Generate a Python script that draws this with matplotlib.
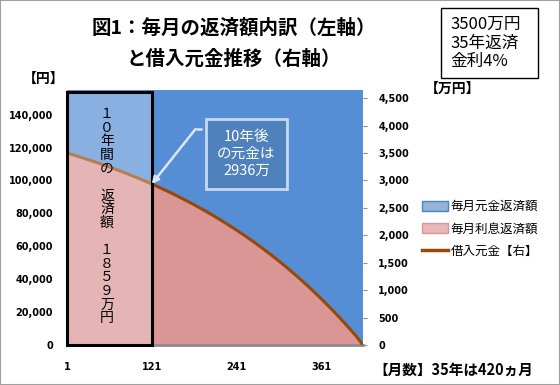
import matplotlib.pyplot as plt
from matplotlib.patches import Rectangle, Patch
from matplotlib.lines import Line2D

plt.rcParams['font.family'] = ['Noto Sans CJK JP', 'DejaVu Sans']

# yearly samples (month number, yen / 万円)
months = list(range(1, 410, 12)) + [420]
interest = [116667, 115106, 113482, 111791, 110032, 108201, 106296, 104313, 102249,
            100100, 97865, 95538, 93117, 90597, 87974, 85245, 82404, 79447, 76370,
            73168, 69835, 66367, 62757, 59000, 55090, 51020, 46785, 42378, 37790,
            33016, 28048, 22877, 17495, 11894, 6066, 515]
principal = [38306, 39867, 41491, 43182, 44941, 46772, 48677, 50660, 52724, 54873,
             57108, 59435, 61856, 64376, 66999, 69728, 72569, 75526, 78603, 81805,
             85138, 88606, 92216, 95973, 99883, 103953, 108188, 112595, 117183,
             121957, 126925, 132096, 137478, 143079, 148907, 154458]
balance = [3500, 3453, 3404, 3354, 3301, 3246, 3189, 3129, 3067, 3003, 2936, 2866,
           2794, 2718, 2639, 2557, 2472, 2383, 2291, 2195, 2095, 1991, 1883, 1770,
           1653, 1531, 1404, 1271, 1134, 990, 841, 686, 525, 357, 182, 0]

left_ticks = [0, 20000, 40000, 60000, 80000, 100000, 120000, 140000]
right_ticks = [0, 500, 1000, 1500, 2000, 2500, 3000, 3500, 4000, 4500]
x_ticks = [1, 121, 241, 361]
series_names = ['毎月元金返済額', '毎月利息返済額', '借入元金【右】']

BLUE = '#558ED5'
PINK = '#D99694'
BROWN = '#984807'

W, H = 560, 385
fig = plt.figure(figsize=(W / 100, H / 100), dpi=100)


def fx(px):
    return px / W


def fy(py):
    return 1 - py / H


ax = fig.add_axes([fx(67), fy(345), fx(363) - fx(67), fy(90) - fy(345)])
ax.stackplot(months, interest, principal, colors=[PINK, BLUE], linewidth=0)
ax.set_xlim(1, 420)
ax.set_ylim(0, 155000)
ax.set_yticks(left_ticks)
ax.set_yticklabels([f'{v:,}' for v in left_ticks], family='DejaVu Sans',
                   fontweight='bold', fontsize=7)
ax.set_xticks(x_ticks)
ax.set_xticklabels([str(v) for v in x_ticks], family='DejaVu Sans',
                   fontweight='bold', fontsize=7)
ax.tick_params(axis='y', length=0, pad=10)
ax.tick_params(axis='x', length=0, pad=12)
for s in ['top', 'left', 'right']:
    ax.spines[s].set_visible(False)
ax.spines['bottom'].set_color('#8C8C8C')
ax.spines['bottom'].set_linewidth(2)

ax2 = ax.twinx()
ax2.plot(months, balance, color=BROWN, linewidth=2.2)
ax2.set_ylim(0, 4650)
ax2.set_yticks(right_ticks)
ax2.set_yticklabels([f'{v:,}' for v in right_ticks], family='DejaVu Sans',
                    fontweight='bold', fontsize=7)
ax2.tick_params(axis='y', length=3, color='#8C8C8C', pad=8)
for s in ax2.spines.values():
    s.set_visible(False)

# first 10 years highlight box
ax2.add_patch(Rectangle((1, 0), 120, 4620, facecolor='white', alpha=0.3,
                        edgecolor='none', zorder=5))
ax2.add_patch(Rectangle((1, 0), 120, 4620, facecolor='none', edgecolor='black',
                        linewidth=2.2, zorder=6, clip_on=False))

vert = '１０年間の　返済額　１８５９万円'
for i, ch in enumerate(vert):
    fig.text(fx(107), fy(114 + i * 13.6), ch, ha='center', va='center',
             fontsize=10, color='black')

# callout
fig.text(fx(246.5), fy(154), '10年後\nの元金は\n2936万', ha='center', va='center',
         color='white', fontsize=10.5, linespacing=1.3,
         bbox=dict(boxstyle='square,pad=0.75', facecolor='#4F81BD',
                   edgecolor='#C6D9F1', linewidth=2))
ax2.annotate('', xy=(121, 2936), xytext=(183, 3939),
             arrowprops=dict(arrowstyle='-|>', color='#DCE6F2', lw=1.8,
                             mutation_scale=10, shrinkA=0, shrinkB=0), zorder=7)
ax2.plot([183, 192], [3939, 3939], color='#DCE6F2', lw=1.8, zorder=7,
         solid_capstyle='butt')

# titles and labels
fig.text(fx(234), fy(28), '図1：毎月の返済額内訳（左軸）', ha='center', va='center',
         fontsize=14, fontweight='bold')
fig.text(fx(234), fy(59), 'と借入元金推移（右軸）', ha='center', va='center',
         fontsize=14, fontweight='bold')
fig.text(fx(23), fy(79), '【円】', ha='left', va='center', fontsize=10,
         fontweight='bold')
fig.text(fx(425), fy(89), '【万円】', ha='left', va='center', fontsize=10,
         fontweight='bold')
fig.text(fx(373), fy(370), '【月数】35年は420ヵ月', ha='left', va='center',
         fontsize=10.5, fontweight='bold')

fig.patches.append(Rectangle((fx(441), fy(78)), fx(538) - fx(441), fy(8) - fy(78),
                             transform=fig.transFigure, facecolor='white',
                             edgecolor='black', linewidth=1))
fig.text(fx(450), fy(43), '3500万円\n35年返済\n金利4%', ha='left', va='center',
         fontsize=12, linespacing=1.15)

handles = [Patch(facecolor='#95B3D7', edgecolor='#4F81BD', linewidth=1),
           Patch(facecolor='#E6B9B8', edgecolor='#D99694', linewidth=1),
           Line2D([0], [0], color=BROWN, linewidth=2.5)]
fig.legend(handles, series_names, loc='center left',
           bbox_to_anchor=(fx(417), fy(229)), frameon=False, fontsize=9,
           handlelength=2.1, handleheight=0.8, handletextpad=0.2,
           labelspacing=0.75, borderaxespad=0)

fig.patches.append(Rectangle((0, 0), 1, 1, transform=fig.transFigure,
                             facecolor='none', edgecolor='#A0A0A0', linewidth=1.5))

fig.savefig('out.png', dpi=100)
